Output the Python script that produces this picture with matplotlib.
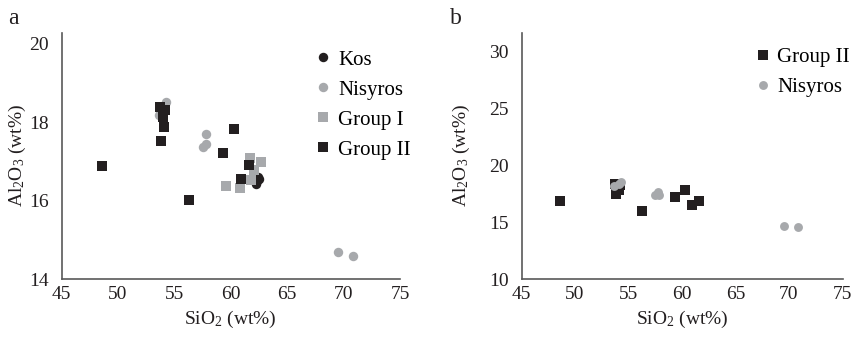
import matplotlib
matplotlib.use("Agg")
import matplotlib.pyplot as plt

plt.rcParams['font.family'] = ['Liberation Serif', 'DejaVu Serif']
plt.rcParams['mathtext.fontset'] = 'custom'
plt.rcParams['mathtext.rm'] = 'Liberation Serif'
plt.rcParams['mathtext.it'] = 'Liberation Serif:italic'

# ---- data (SiO2, Al2O3 in wt%) ----
kos_si = [62.3, 62.5, 62.2, 62.4]
kos_al = [16.50, 16.55, 16.42, 16.60]

nis_si = [69.5, 70.8, 57.8, 57.5, 57.85, 54.3, 53.6, 54.1]
nis_al = [14.70, 14.59, 17.69, 17.36, 17.44, 18.52, 18.18, 18.35]

g1_si = [59.6, 60.8, 61.7, 62.65, 62.1, 61.8]
g1_al = [16.36, 16.31, 17.08, 16.99, 16.78, 16.53]

g2_si = [48.6, 56.3, 53.8, 54.1, 53.7, 54.2, 54.0, 60.27, 59.3, 61.6, 60.9]
g2_al = [16.87, 16.02, 17.53, 17.87, 18.40, 18.31, 18.14, 17.83, 17.21, 16.91, 16.54]

x_ticks = [45, 50, 55, 60, 65, 70, 75]
ya_ticks = [14, 16, 18, 20]
yb_ticks = [10, 15, 20, 25, 30]

BLACK = '#231f20'
GRAY = '#a7a9ac'
SPINE = '#595959'

W, H = 859, 340
fig = plt.figure(figsize=(W / 100, H / 100), dpi=100)

def box(l, r, b, t):
    return [l / W, 1 - b / H, (r - l) / W, (b - t) / H]

axa = fig.add_axes(box(61.5, 400, 279, 33))
axb = fig.add_axes(box(521.5, 842.5, 279, 33))

ms_sq = 7.2
ms_ci = 6.8

axa.plot(kos_si, kos_al, 'o', color=BLACK, ms=ms_ci, mew=0, label='Kos', zorder=3)
axa.plot(nis_si, nis_al, 'o', color=GRAY, ms=ms_ci, mew=0, label='Nisyros', zorder=3)
axa.plot(g1_si, g1_al, 's', color=GRAY, ms=ms_sq, mew=0, label='Group I', zorder=4)
axa.plot(g2_si, g2_al, 's', color=BLACK, ms=ms_sq, mew=0, label='Group II', zorder=5)

axb.plot(g2_si, g2_al, 's', color=BLACK, ms=6.6, mew=0, label='Group II', zorder=3)
axb.plot(nis_si, nis_al, 'o', color=GRAY, ms=6.4, mew=0, label='Nisyros', zorder=4)

axa.set_xlim(45, 75)
axa.set_ylim(14, 14 + (279 - 33) / 39.2)
axb.set_xlim(45, 75)
axb.set_ylim(10, 10 + (279 - 33) / 11.35)

for ax, yt in ((axa, ya_ticks), (axb, yb_ticks)):
    ax.set_xticks(x_ticks)
    ax.set_yticks(yt)
    ax.set_xticklabels([str(v) for v in x_ticks])
    ax.set_yticklabels([str(v) for v in yt])
    ax.tick_params(length=0, labelsize=14, colors='#231f20')
    ax.tick_params(axis='y', pad=9)
    ax.tick_params(axis='x', pad=5)
    for s in ('top', 'right'):
        ax.spines[s].set_visible(False)
    for s in ('left', 'bottom'):
        ax.spines[s].set_color(SPINE)
        ax.spines[s].set_linewidth(1.2)
    ax.set_xlabel(r'SiO$_2$ (wt%)', fontsize=14, color='#231f20', labelpad=4)
    ax.set_ylabel(r'Al$_2$O$_3$ (wt%)', fontsize=14, color='#231f20',
                  va='center')

# y-label positions (axes fraction)
axa.yaxis.set_label_coords((17 - 61.5) / (400 - 61.5), (279 - 155) / (279 - 33))
axb.yaxis.set_label_coords((461 - 521.5) / (842.5 - 521.5), (279 - 155) / (279 - 33))

axa.legend(loc='upper left', bbox_to_anchor=(0.715, 0.965), frameon=False,
           fontsize=15, handletextpad=0.15, labelspacing=0.5, handlelength=1.1,
           borderaxespad=0)
axb.legend(loc='upper left', bbox_to_anchor=(0.69, 0.975), frameon=False,
           fontsize=15, handletextpad=0.15, labelspacing=0.5, handlelength=1.1,
           borderaxespad=0)

fig.text(8 / W, 1 - 18 / H, 'a', fontsize=17, va='center', ha='left', color='#231f20')
fig.text(450 / W, 1 - 18 / H, 'b', fontsize=17, va='center', ha='left', color='#231f20')

fig.savefig('out.png', dpi=100)
